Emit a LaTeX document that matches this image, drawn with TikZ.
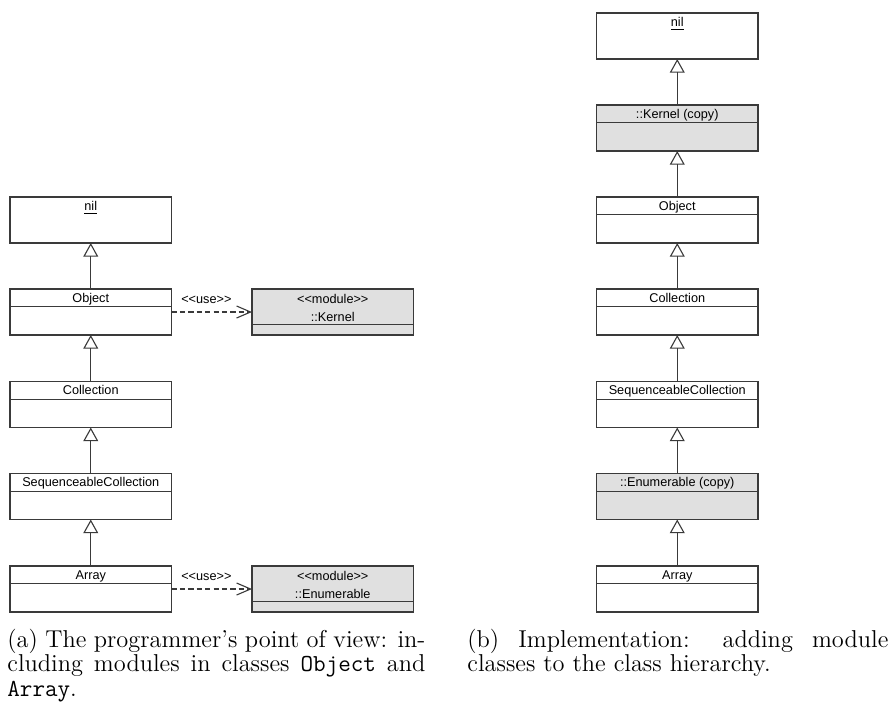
\documentclass[tikz,border=0pt]{standalone}
\usepackage{fontspec}
\newfontfamily\umlfont{Liberation Sans}
\usetikzlibrary{arrows.meta}
\definecolor{linec}{HTML}{3A3A3A}
\definecolor{modfill}{HTML}{E0E0E0}
\tikzset{
  clsbody/.style={draw=linec, line width=0.55pt, minimum width=80.75pt, minimum height=23pt, inner sep=0pt, outer sep=0pt},
  clstext/.style={font=\umlfont\fontsize{6.35pt}{7.6pt}\selectfont, inner sep=0pt, text height=4.55pt, text depth=0pt, text=black},
  divline/.style={draw=linec, line width=0.5pt},
  inherit/.style={draw=linec, line width=0.55pt, -{Triangle[open, length=6.8pt, width=7.4pt]}},
  usedep/.style={draw=linec, line width=0.55pt, dash pattern=on 2.6pt off 1.6pt, -{Straight Barb[length=7pt, width=6pt]}},
  captext/.style={anchor=base west, inner sep=0pt, font=\fontsize{12.2pt}{12.25pt}\selectfont}
}
% class box: name, x, top y, title, fill
\newcommand{\umlcls}[5]{%
  \node[clsbody, fill=#5, anchor=north west] (#1) at (#2,#3) {};
  \draw[divline] ([yshift=-8.75pt]#1.north west) -- ([yshift=-8.75pt]#1.north east);
  \node[clstext] (#1-t) at ([yshift=-4.375pt]#1.north) {#4};
}
% nil box: name, x, top y
\newcommand{\umlnil}[3]{%
  \node[clsbody, fill=white, anchor=north west] (#1) at (#2,#3) {};
  \node[clstext] (#1-t) at ([yshift=-4.5pt]#1.north) {\underline{nil}};
}
% module box: name, x, top y, module name
\newcommand{\umlmod}[4]{%
  \node[clsbody, fill=modfill, anchor=north west] (#1) at (#2,#3) {};
  \draw[divline] ([yshift=-17.5pt]#1.north west) -- ([yshift=-17.5pt]#1.north east);
  \node[clstext] (#1-s) at ([yshift=-5pt]#1.north) {<{}<module>{}>};
  \node[clstext] (#1-t) at ([yshift=-14pt]#1.north) {#4};
}
\begin{document}
\begin{tikzpicture}[x=0.5pt, y=-0.5pt]
\useasboundingbox[fill=white] (0,0) rectangle (892,709);

% ---------- (a) left diagram ----------
\umlnil{lnil}{10}{197}
\umlcls{lobj}{10}{289}{Object}{white}
\umlcls{lcol}{10}{381.5}{Collection}{white}
\umlcls{lseq}{10}{473.5}{SequenceableCollection}{white}
\umlcls{larr}{10}{566}{Array}{white}
\umlmod{lkern}{252}{289}{::Kernel}
\umlmod{lenum}{252}{566}{::Enumerable}

\draw[inherit] (lobj.north) -- (lnil.south);
\draw[inherit] (lcol.north) -- (lobj.south);
\draw[inherit] (lseq.north) -- (lcol.south);
\draw[inherit] (larr.north) -- (lseq.south);

\draw[usedep] (lobj.east) -- (lkern.west)
  node[clstext, midway, yshift=6.6pt, xshift=-2.7pt] (use1) {<{}<use>{}>};
\draw[usedep] (larr.east) -- (lenum.west)
  node[clstext, midway, yshift=6.6pt, xshift=-2.7pt] (use2) {<{}<use>{}>};

% ---------- (b) right diagram ----------
\umlnil{rnil}{596.5}{13}
\umlcls{rkern}{596.5}{105}{::Kernel (copy)}{modfill}
\umlcls{robj}{596.5}{197}{Object}{white}
\umlcls{rcol}{596.5}{289}{Collection}{white}
\umlcls{rseq}{596.5}{381.5}{SequenceableCollection}{white}
\umlcls{renum}{596.5}{473.5}{::Enumerable (copy)}{modfill}
\umlcls{rarr}{596.5}{566}{Array}{white}

\draw[inherit] (rkern.north) -- (rnil.south);
\draw[inherit] (robj.north) -- (rkern.south);
\draw[inherit] (rcol.north) -- (robj.south);
\draw[inherit] (rseq.north) -- (rcol.south);
\draw[inherit] (renum.north) -- (rseq.south);
\draw[inherit] (rarr.north) -- (renum.south);

% ---------- captions ----------
\node[captext] (capa) at (7,647) {\parbox[t]{209pt}{(a) The programmer's point of view: in\-cluding modules in classes \texttt{Object} and \texttt{Array}.}};
\node[captext] (capb) at (467,647) {\parbox[t]{210.5pt}{(b) Implementation: adding module classes to the class hierarchy.}};
\end{tikzpicture}
\end{document}
